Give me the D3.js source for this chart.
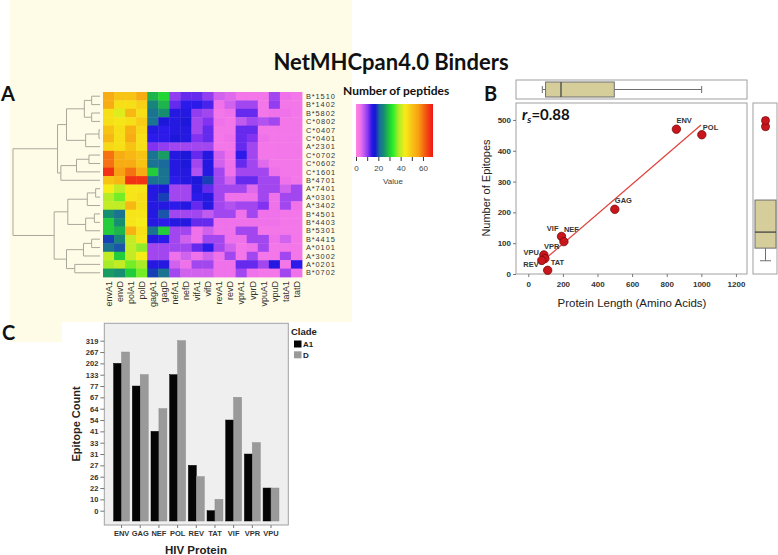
<!DOCTYPE html>
<html><head><meta charset="utf-8">
<script src="https://cdn.jsdelivr.net/npm/d3@7"></script>
<style>body{margin:0;background:#fff} svg{display:block}</style>
</head><body>
<svg id="c" width="778" height="555"></svg>
<script>
// ---------------- DATA ----------------
const heatRows = ["B*1510","B*1402","B*5802","C*0802","C*0407","C*0401","A*2301","C*0702","C*0602","C*1601","B*4701","A*7401","A*0301","A*3402","B*4501","B*4403","B*5301","B*4415","A*0101","A*3002","A*0201","B*0702"];
const heatCols = ["envA1","envD","polA1","polD","gagA1","gagD","nefA1","nefD","vifA1","vifD","revA1","revD","vprA1","vprD","vpuA1","vpuD","tatA1","tatD"];
const heatValues = [
 [54,50,50,54,28,31,10,12,12,10,6,5,3,3,3,9,4,3],
 [54,46,46,48,24,28,12,14,14,13,4,6,9,9,3,10,3,3],
 [46,42,52,46,22,25,15,15,10,9,3,4,12,12,3,4,4,3],
 [46,45,46,49,22,16,15,16,9,11,4,3,7,9,8,9,3,3],
 [50,46,53,47,15,14,15,15,9,12,3,3,12,12,3,3,3,3],
 [52,46,54,46,14,14,16,15,11,12,3,4,12,11,4,3,3,3],
 [47,46,50,46,11,10,9,9,9,9,3,3,12,9,3,3,3,3],
 [60,54,52,50,22,26,15,16,12,15,6,4,14,9,3,3,3,3],
 [60,54,54,50,22,21,15,16,9,15,6,4,12,9,5,3,3,3],
 [66,56,60,54,30,22,15,15,8,15,9,4,9,9,9,4,3,3],
 [50,52,66,66,22,22,14,15,16,19,9,6,12,12,9,9,4,3],
 [44,40,45,45,15,16,9,9,15,12,9,9,9,5,9,9,6,9],
 [39,36,45,46,15,19,9,9,14,15,9,4,4,4,9,4,9,9],
 [40,40,52,46,15,15,14,15,12,15,9,8,9,9,11,4,9,4],
 [25,22,45,45,15,20,9,9,9,7,9,9,4,9,4,4,3,3],
 [30,25,45,44,15,14,15,15,12,12,4,4,4,4,4,4,3,3],
 [30,28,53,46,22,30,9,9,4,6,4,4,9,9,3,3,3,3],
 [19,24,40,45,15,14,9,6,4,9,9,4,4,9,9,4,6,3],
 [22,20,40,37,9,9,9,9,12,14,9,6,3,4,9,3,3,3],
 [40,30,40,44,9,9,4,6,4,6,4,9,3,9,3,3,9,3],
 [38,40,36,38,15,15,6,4,9,9,4,4,12,12,9,15,3,14],
 [26,25,30,36,19,22,9,6,6,6,4,4,9,4,3,3,9,4]
];
// hclust-style merges: [left, right, height]; negative = leaf (row index, 1-based)
const dendroMerges = [
 [-5,-6,1.2],[-8,-9,12.7],[-1,-2,9.6],[-3,-4,9.6],[3,4,18],[1,-7,16.5],[5,6,38.5],
 [2,-10,27],[8,-11,45],[7,9,48.8],
 [-12,-13,5],[11,-14,14.6],[-15,-16,6.5],[13,-17,16.5],[12,14,37],
 [-18,-19,9.6],[16,-20,19],[-21,-22,29],[17,18,38.5],[15,19,52.7],[10,20,100]
];
const legendTicks = [0,10,20,30,40,50,60];
const legendLabels = [0,20,40,60];

const scatterProteins = ["ENV","POL","GAG","VIF","NEF","VPU","VPR","REV","TAT"];
const proteinLength = [856,1003,500,192,206,90,96,78,112];
const epitopeNumber = [470,452,210,122,105,62,50,44,12];
const lengthBox = [81,100,189,497,1002];      // min, q1, median, q3, max
const epitopeBox = [43,84,136,240,240];       // min, q1, median, q3, max
const epitopeOutliers = [478,498];
const xTicksB = [0,200,400,600,800,1000,1200];
const yTicksB = [0,100,200,300,400,500];
const rsLabel = "0.88";

const barProteins = ["ENV","GAG","NEF","POL","REV","TAT","VIF","VPR","VPU"];
const cladeA1 = [202,77,41,133,27,0,54,31,22];
const cladeD = [267,133,64,319,26,10,67,33,22];
const clades = ["A1","D"];

// ---------------- DRAW ----------------
const svg = d3.select("#c");
const SANS = "'Liberation Sans', Arial, sans-serif";
const HEAD = "Lato, 'Liberation Sans', sans-serif";

// panel A background
svg.append("rect").attr("x",10).attr("y",0).attr("width",342).attr("height",322).attr("fill","#fefce6");
svg.append("rect").attr("x",10).attr("y",322).attr("width",52).attr("height",20).attr("fill","#fefce6");

// title
svg.append("text").attr("x",391).attr("y",70).attr("text-anchor","middle")
  .attr("font-family",HEAD).attr("font-weight","bold").attr("font-size",22).attr("fill","#111")
  .text("NetMHCpan4.0 Binders");

// panel letters
[["A",1,101],["B",484,101],["C",2,340]].forEach(([t,x,y])=>{
  svg.append("text").attr("x",x).attr("y",y).attr("font-family",HEAD).attr("font-weight","bold")
    .attr("font-size",20).attr("fill","#111").text(t);
});

// ---- heatmap ----
const color = d3.scaleLinear()
  .domain([0,4,8,11,14,17,21,25,29,33,38,44,50,56,62,69])
  .range(["#ff84e2","#ef72ea","#b252f0","#8232f0","#2c1aea","#1616d0","#1a6a9c","#168e70","#20c040","#26ee26","#a8ec28","#f6ec18","#f8c414","#f8a012","#f45a10","#f01616"])
  .clamp(true);
const xH = d3.scaleBand().domain(heatCols).range([103,302]);
const yH = d3.scaleBand().domain(heatRows).range([92,277]);
const gH = svg.append("g");
heatValues.forEach((row,i)=>{
  gH.selectAll(null).data(row).join("rect")
    .attr("x",(d,j)=>xH(heatCols[j])).attr("y",yH(heatRows[i]))
    .attr("width",xH.bandwidth()+0.4).attr("height",yH.bandwidth()+0.4)
    .attr("fill",d=>color(d));
});
svg.append("g").selectAll("text").data(heatRows).join("text")
  .attr("x",306).attr("y",d=>yH(d)+yH.bandwidth()/2).attr("dy","0.36em")
  .attr("font-family",SANS).attr("font-size",7.4).attr("letter-spacing",0.9).attr("fill","#333").text(d=>d);
svg.append("g").selectAll("text").data(heatCols).join("text")
  .attr("transform",d=>`translate(${xH(d)+xH.bandwidth()/2},281) rotate(-90)`)
  .attr("dy","0.36em").attr("text-anchor","end")
  .attr("font-family",SANS).attr("font-size",9).attr("fill","#333").text(d=>d);

// ---- dendrogram ----
const xD = d3.scaleLinear().domain([0,100]).range([100,13]);
const nodes = [];
const segs = [];
function nodePos(k){ return k<0 ? {y:yH(heatRows[-k-1])+yH.bandwidth()/2, h:0} : nodes[k-1]; }
dendroMerges.forEach(m=>{
  const a=nodePos(m[0]), b=nodePos(m[1]);
  segs.push([xD(m[2]),a.y,xD(m[2]),b.y]);
  segs.push([xD(m[2]),a.y,xD(a.h),a.y]);
  segs.push([xD(m[2]),b.y,xD(b.h),b.y]);
  nodes.push({y:(a.y+b.y)/2,h:m[2]});
});
svg.append("g").selectAll("line").data(segs).join("line")
  .attr("x1",d=>d[0]).attr("y1",d=>d[1]).attr("x2",d=>d[2]).attr("y2",d=>d[3])
  .attr("stroke","#a9a89c").attr("stroke-width",1);

// ---- colour legend ----
svg.append("text").attr("x",343).attr("y",95).attr("font-family",HEAD).attr("font-weight","bold")
  .attr("font-size",12).attr("fill","#111").text("Number of peptides");
const xL = d3.scaleLinear().domain([0,69]).range([356,433]);
const grad = svg.append("defs").append("linearGradient").attr("id","lg");
d3.range(0,70,1).forEach(v=>grad.append("stop").attr("offset",(v/69*100)+"%").attr("stop-color",color(v)));
svg.append("rect").attr("x",356).attr("y",104).attr("width",77).attr("height",53).attr("fill","url(#lg)");
const axL = svg.append("g").attr("transform","translate(0,157)")
  .call(d3.axisBottom(xL).tickValues(legendTicks).tickSize(4).tickFormat(d=>legendLabels.includes(d)?d:""));
axL.select(".domain").remove();
axL.selectAll("line").attr("stroke","#333");
axL.selectAll("text").attr("font-family",SANS).attr("font-size",8).attr("fill","#444").attr("dy","0.9em");
svg.append("text").attr("x",393).attr("y",184).attr("text-anchor","middle").attr("font-family",SANS)
  .attr("font-size",8).attr("fill","#444").text("Value");

// ---- panel B scatter ----
const xS = d3.scaleLinear().domain([-71,1264]).range([516,747]);
const yS = d3.scaleLinear().domain([0,555]).range([274,103]);
const frameStroke = "#a0a0a0";
svg.append("rect").attr("x",516).attr("y",80).attr("width",231).attr("height",19).attr("fill","#fff").attr("stroke",frameStroke);
svg.append("rect").attr("x",516).attr("y",103).attr("width",231).attr("height",171).attr("fill","#fff").attr("stroke",frameStroke);
svg.append("rect").attr("x",753).attr("y",103).attr("width",24).attr("height",171).attr("fill","#fff").attr("stroke",frameStroke);

const axXB = svg.append("g").attr("transform","translate(0,274)").call(d3.axisBottom(xS).tickValues(xTicksB).tickFormat(d3.format("d")).tickSize(3).tickPadding(4));
const axYB = svg.append("g").attr("transform","translate(516,0)").call(d3.axisLeft(yS).tickValues(yTicksB).tickFormat(d3.format("d")).tickSize(3).tickPadding(2));
[axXB,axYB].forEach(a=>{
  a.select(".domain").remove();
  a.selectAll("line").attr("stroke","#777");
  a.selectAll("text").attr("font-family",SANS).attr("font-weight","bold").attr("font-size",8).attr("fill","#333");
});
svg.append("text").attr("transform","translate(490,188) rotate(-90)").attr("text-anchor","middle")
  .attr("font-family",SANS).attr("font-size",11).attr("fill","#222").text("Number of Epitopes");
svg.append("text").attr("x",632).attr("y",307).attr("text-anchor","middle")
  .attr("font-family",SANS).attr("font-size",11.5).attr("fill","#222").text("Protein Length (Amino Acids)");

// regression (least squares)
const mx=d3.mean(proteinLength), my=d3.mean(epitopeNumber);
const slope=d3.sum(proteinLength,(x,i)=>(x-mx)*(epitopeNumber[i]-my))/d3.sum(proteinLength,x=>(x-mx)*(x-mx));
const icpt=my-slope*mx;
const xr=[d3.min(proteinLength)+8,d3.max(proteinLength)-5];
svg.append("line").attr("x1",xS(xr[0])).attr("y1",yS(icpt+slope*xr[0])).attr("x2",xS(xr[1])).attr("y2",yS(icpt+slope*xr[1]))
  .attr("stroke","#e0403a").attr("stroke-width",1.2);

svg.append("g").selectAll("circle").data(proteinLength).join("circle")
  .attr("cx",d=>xS(d)).attr("cy",(d,i)=>yS(epitopeNumber[i])).attr("r",4.2)
  .attr("fill","#c8161c").attr("stroke","#7a0a0a").attr("stroke-width",0.8);

const labelOff = {ENV:[0,-6,"start"],POL:[1,-5,"start"],GAG:[0,-6,"start"],VIF:[-3,-5,"end"],NEF:[0,-10,"start"],
  VPR:[-1,-10,"start"],VPU:[-5,0,"end"],REV:[-3,7,"end"],TAT:[3,-5,"start"]};
svg.append("g").selectAll("text").data(scatterProteins).join("text")
  .attr("x",(d,i)=>xS(proteinLength[i])+labelOff[d][0]).attr("y",(d,i)=>yS(epitopeNumber[i])+labelOff[d][1])
  .attr("text-anchor",d=>labelOff[d][2])
  .attr("font-family",SANS).attr("font-weight","bold").attr("font-size",7.5).attr("fill","#333").text(d=>d);

const rs = svg.append("text").attr("x",522).attr("y",120).attr("font-family",HEAD).attr("font-weight","bold")
  .attr("font-size",15).attr("fill","#111");
rs.append("tspan").attr("font-style","italic").text("r");
rs.append("tspan").attr("font-size",10).attr("dy",3).attr("font-style","italic").text("s");
rs.append("tspan").attr("dy",-3).text("="+rsLabel);

// top box plot (protein length)
const boxFill="#d6ce9a", boxStroke="#6f6f6f";
const gTB = svg.append("g");
gTB.append("line").attr("x1",xS(lengthBox[0])).attr("x2",xS(lengthBox[1])).attr("y1",89.5).attr("y2",89.5).attr("stroke",boxStroke);
gTB.append("line").attr("x1",xS(lengthBox[3])).attr("x2",xS(lengthBox[4])).attr("y1",89.5).attr("y2",89.5).attr("stroke",boxStroke);
[lengthBox[0],lengthBox[4]].forEach(v=>gTB.append("line").attr("x1",xS(v)).attr("x2",xS(v)).attr("y1",86).attr("y2",93).attr("stroke",boxStroke));
gTB.append("rect").attr("x",xS(lengthBox[1])).attr("y",82).attr("width",xS(lengthBox[3])-xS(lengthBox[1])).attr("height",15)
  .attr("fill",boxFill).attr("stroke",boxStroke);
gTB.append("line").attr("x1",xS(lengthBox[2])).attr("x2",xS(lengthBox[2])).attr("y1",82).attr("y2",97).attr("stroke","#444").attr("stroke-width",1.3);

// right box plot (epitopes)
const gRB = svg.append("g");
gRB.append("line").attr("x1",765.5).attr("x2",765.5).attr("y1",yS(epitopeBox[0])).attr("y2",yS(epitopeBox[1])).attr("stroke",boxStroke);
gRB.append("line").attr("x1",760).attr("x2",771).attr("y1",yS(epitopeBox[0])).attr("y2",yS(epitopeBox[0])).attr("stroke",boxStroke);
gRB.append("rect").attr("x",755).attr("y",yS(epitopeBox[3])).attr("width",21).attr("height",yS(epitopeBox[1])-yS(epitopeBox[3]))
  .attr("fill",boxFill).attr("stroke",boxStroke);
gRB.append("line").attr("x1",755).attr("x2",776).attr("y1",yS(epitopeBox[2])).attr("y2",yS(epitopeBox[2])).attr("stroke","#444").attr("stroke-width",1.3);
gRB.selectAll("circle").data(epitopeOutliers).join("circle").attr("cx",765.5).attr("cy",d=>yS(d)).attr("r",4)
  .attr("fill","#c8161c").attr("stroke","#7a0a0a").attr("stroke-width",0.8);

// ---- panel C bars ----
svg.append("rect").attr("x",104.3).attr("y",323.3).attr("width",184).attr("height",201.7).attr("fill","#efefef").attr("stroke","#a0a0a0");
const xG = d3.scaleBand().domain(barProteins).range([104.3,288.3]).paddingInner(0.15).paddingOuter(0.5);
const xC = d3.scaleBand().domain(clades).range([0,xG.bandwidth()]);
const yLevels = Array.from(new Set(cladeA1.concat(cladeD))).sort((a,b)=>a-b);
const yC = d3.scalePoint().domain(yLevels).range([510.7,340.7]);
const baseY = 521;
const cladeColor = {A1:"#050505", D:"#9a9a9a"};
const seriesC = {A1:cladeA1, D:cladeD};
clades.forEach(c=>{
  svg.append("g").selectAll("rect").data(seriesC[c]).join("rect")
    .attr("x",(d,i)=>xG(barProteins[i])+xC(c)).attr("y",d=>yC(d))
    .attr("width",xC.bandwidth()).attr("height",d=>baseY-yC(d))
    .attr("fill",cladeColor[c]).attr("stroke",c==="A1"?"#000":"#8a8a8a").attr("stroke-width",0.5);
});
const axYC = svg.append("g").attr("transform","translate(104.3,0)").call(d3.axisLeft(yC).tickSize(4).tickPadding(2));
const axXC = svg.append("g").attr("transform","translate(0,525)").call(d3.axisBottom(xG).tickSize(3).tickPadding(3));
[axYC,axXC].forEach(a=>{
  a.select(".domain").remove();
  a.selectAll("line").attr("stroke","#777");
  a.selectAll("text").attr("font-family",SANS).attr("font-weight","bold").attr("font-size",7.5).attr("fill","#333");
});
svg.append("text").attr("transform","translate(80,424) rotate(-90)").attr("text-anchor","middle")
  .attr("font-family",SANS).attr("font-weight","bold").attr("font-size",11).attr("fill","#222").text("Epitope Count");
svg.append("text").attr("x",196).attr("y",554).attr("text-anchor","middle")
  .attr("font-family",SANS).attr("font-weight","bold").attr("font-size",11.5).attr("fill","#222").text("HIV Protein");
// legend
svg.append("text").attr("x",291).attr("y",335).attr("font-family",SANS).attr("font-weight","bold")
  .attr("font-size",9.5).attr("fill","#222").text("Clade");
const lgC = svg.append("g").selectAll("g").data(clades).join("g").attr("transform",(d,i)=>`translate(294,${340.5+i*10.8})`);
lgC.append("rect").attr("width",7.5).attr("height",7).attr("fill",d=>cladeColor[d]);
lgC.append("text").attr("x",9).attr("y",6.8).attr("font-family",SANS).attr("font-weight","bold")
  .attr("font-size",8).attr("fill","#222").text(d=>d);
</script>
</body></html>
